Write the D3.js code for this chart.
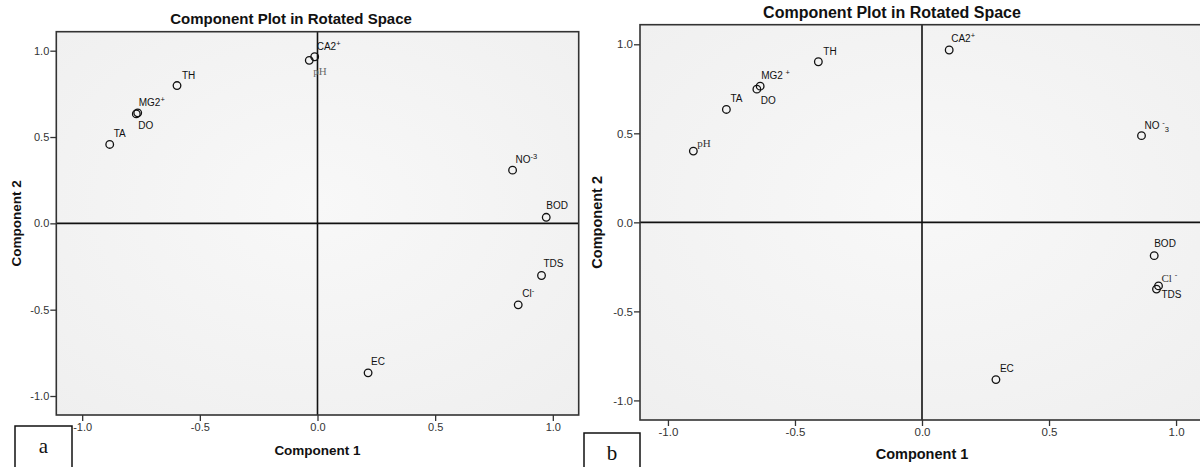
<!DOCTYPE html>
<html>
<head>
<meta charset="utf-8">
<script src="https://cdn.jsdelivr.net/npm/d3@7"></script>
<style>
  body { margin: 0; background: #fff; }
  svg { display: block; }
</style>
</head>
<body>
<script>
'use strict'

// ---- data ----
// label markup: ^ = superscript char, _ = subscript char
var labelsA = ["CA2^+", "pH", "TH", "MG2^+", "DO", "TA", "NO^-^3", "BOD", "TDS", "Cl^-", "EC"];
var comp1A  = [-0.012, -0.035, -0.597, -0.764, -0.770, -0.883, 0.829, 0.972, 0.952, 0.853, 0.215];
var comp2A  = [ 0.965,  0.944,  0.798,  0.640,  0.634,  0.457, 0.308, 0.035, -0.302, -0.472, -0.866];

var labelsB = ["CA2^+", "TH", "MG2 ^+", "DO", "TA", "pH", "NO ^-_3", "BOD", "Cl ^-", "TDS", "EC"];
var comp1B  = [0.107, -0.408, -0.637, -0.650, -0.770, -0.900, 0.864, 0.914, 0.931, 0.923, 0.291];
var comp2B  = [0.968,  0.902,  0.765,  0.748,  0.634,  0.400, 0.487, -0.187, -0.357, -0.375, -0.883];

var tickValues = [-1.0, -0.5, 0.0, 0.5, 1.0];
var tickLabels = ["-1.0", "-0.5", "0.0", "0.5", "1.0"];
var titleText = "Component Plot in Rotated Space";
var xTitle = "Component 1";
var yTitle = "Component 2";

// ---- layout ----
var W = 1200, H = 467;
var svg = d3.select("body").append("svg")
  .attr("width", W)
  .attr("height", H);

var defs = svg.append("defs");
var grad = defs.append("radialGradient").attr("id", "bg").attr("cx", "50%").attr("cy", "45%").attr("r", "75%");
grad.append("stop").attr("offset", "0%").attr("stop-color", "#f8f8f8");
grad.append("stop").attr("offset", "100%").attr("stop-color", "#efefef");

// label offsets (dx, dy from point centre), font: "serif" / "serifGray"
var placeA = {
  "CA2^+": [2, -7], "pH": [4, 15, "serifGray"], "TH": [5, -7], "MG2^+": [1, -7], "DO": [2, 15],
  "TA": [4, -7], "NO^-^3": [3, -7], "BOD": [0, -8], "TDS": [2, -8], "Cl^-": [4, -8], "EC": [3, -8]
};
var placeB = {
  "CA2^+": [2, -8], "TH": [5, -7], "MG2 ^+": [1, -7], "DO": [4, 15], "TA": [4, -7],
  "pH": [4, -4, "serif"], "NO ^-_3": [3, -7], "BOD": [0, -9], "Cl ^-": [3, -4, "serif"], "TDS": [5, 9], "EC": [4, -8]
};

var sans = "'Liberation Sans', Arial, sans-serif";
var serifFont = "'Liberation Serif', 'Times New Roman', serif";

function drawPanel(cfg) {
  var x = d3.scaleLinear().domain([-1.11, 1.11]).range([cfg.left, cfg.right]);
  var y = d3.scaleLinear().domain([-1.11, 1.11]).range([cfg.bottom, cfg.top]);
  var g = svg.append("g");

  // plot area
  g.append("rect")
    .attr("x", x(-1.11)).attr("y", y(1.11))
    .attr("width", x(1.11) - x(-1.11)).attr("height", y(-1.11) - y(1.11))
    .attr("fill", "url(#bg)");

  // zero lines
  g.append("line")
    .attr("x1", x(0)).attr("x2", x(0)).attr("y1", y(1.11)).attr("y2", y(-1.11))
    .attr("stroke", "#111").attr("stroke-width", 1.6);
  g.append("line")
    .attr("x1", x(-1.11)).attr("x2", x(1.11)).attr("y1", y(0)).attr("y2", y(0))
    .attr("stroke", "#111").attr("stroke-width", 1.6);

  // frame
  g.append("rect")
    .attr("x", x(-1.11)).attr("y", y(1.11))
    .attr("width", x(1.11) - x(-1.11)).attr("height", y(-1.11) - y(1.11))
    .attr("fill", "none").attr("stroke", "#333").attr("stroke-width", 1.6);

  // axes
  var fmt = function(d) { return tickLabels[tickValues.indexOf(d)]; };
  var xAxis = g.append("g")
    .attr("transform", "translate(0," + y(-1.11) + ")")
    .call(d3.axisBottom(x).tickValues(tickValues).tickFormat(fmt).tickSize(6).tickPadding(2));
  var yAxis = g.append("g")
    .attr("transform", "translate(" + x(-1.11) + ",0)")
    .call(d3.axisLeft(y).tickValues(tickValues).tickFormat(fmt).tickSize(6).tickPadding(1));
  [xAxis, yAxis].forEach(function(a) {
    a.select(".domain").remove();
    a.selectAll(".tick line").attr("stroke", "#333").attr("stroke-width", 1.3);
    a.selectAll(".tick text")
      .attr("fill", "#333")
      .style("font-family", sans)
      .style("font-size", cfg.tickSize);
  });

  // titles
  g.append("text")
    .attr("x", cfg.titleX).attr("y", cfg.titleY)
    .attr("text-anchor", "middle")
    .style("font-family", sans)
    .style("font-size", cfg.titleSize).style("font-weight", "bold")
    .attr("fill", "#111")
    .text(titleText);
  g.append("text")
    .attr("x", x(0)).attr("y", cfg.xTitleY)
    .attr("text-anchor", "middle")
    .style("font-family", sans)
    .style("font-size", cfg.axisSize).style("font-weight", "bold")
    .attr("fill", "#111")
    .text(xTitle);
  g.append("text")
    .attr("transform", "translate(" + cfg.yTitleX + "," + y(0) + ") rotate(-90)")
    .attr("text-anchor", "middle")
    .style("font-family", sans)
    .style("font-size", cfg.axisSize).style("font-weight", "bold")
    .attr("fill", "#111")
    .text(yTitle);

  // points
  var data = cfg.labels.map(function(l, i) { return { label: l, c1: cfg.c1[i], c2: cfg.c2[i] }; });
  var pts = g.selectAll("g.pt").data(data).enter().append("g").attr("class", "pt");
  pts.append("circle")
    .attr("cx", function(d) { return x(d.c1); })
    .attr("cy", function(d) { return y(d.c2); })
    .attr("r", 3.8)
    .attr("fill", "none")
    .attr("stroke", "#111")
    .attr("stroke-width", 1.3);

  pts.each(function(d) {
    var p = cfg.place[d.label] || [3, -7];
    var serif = !!p[2];
    var t = d3.select(this).append("text")
      .attr("x", x(d.c1) + p[0])
      .attr("y", y(d.c2) + p[1])
      .attr("fill", p[2] === "serifGray" ? "#6a6a6a" : (serif ? "#333" : "#111"))
      .style("font-family", serif ? serifFont : sans)
      .style("font-size", serif ? "11px" : "10px");
    // split label markup into tspans
    var parts = d.label.match(/\^.|_.|[^\^_]+/g);
    var shift = 0;
    parts.forEach(function(s) {
      var ts = t.append("tspan");
      var want = s[0] === "^" ? -4 : (s[0] === "_" ? 3 : 0);
      ts.attr("dy", want - shift);
      shift = want;
      if (want !== 0) {
        ts.style("font-size", "7.5px").text(s[1]);
      } else {
        ts.text(s);
      }
    });
  });

  // panel letter box
  g.append("rect")
    .attr("x", cfg.box[0]).attr("y", cfg.box[1]).attr("width", cfg.box[2]).attr("height", cfg.box[3])
    .attr("fill", "#fff").attr("stroke", "#111").attr("stroke-width", 1.5);
  g.append("text")
    .attr("x", cfg.box[0] + cfg.box[2] / 2).attr("y", cfg.box[1] + 27)
    .attr("text-anchor", "middle")
    .style("font-family", serifFont)
    .style("font-size", "21px")
    .attr("fill", "#111")
    .text(cfg.letter);
}

drawPanel({
  labels: labelsA, c1: comp1A, c2: comp2A, place: placeA,
  left: 56.3, right: 578.7, top: 31.7, bottom: 415,
  titleX: 291, titleY: 24, xTitleY: 455, yTitleX: 21,
  titleSize: "15px", axisSize: "13.5px", tickSize: "11px",
  box: [15, 426, 57, 42], letter: "a"
});

drawPanel({
  labels: labelsB, c1: comp1B, c2: comp2B, place: placeB,
  left: 640, right: 1204, top: 24.7, bottom: 420,
  titleX: 892, titleY: 18, xTitleY: 459, yTitleX: 602,
  titleSize: "16px", axisSize: "14.5px", tickSize: "11.5px",
  box: [584, 433, 56, 40], letter: "b"
});
</script>
</body>
</html>
